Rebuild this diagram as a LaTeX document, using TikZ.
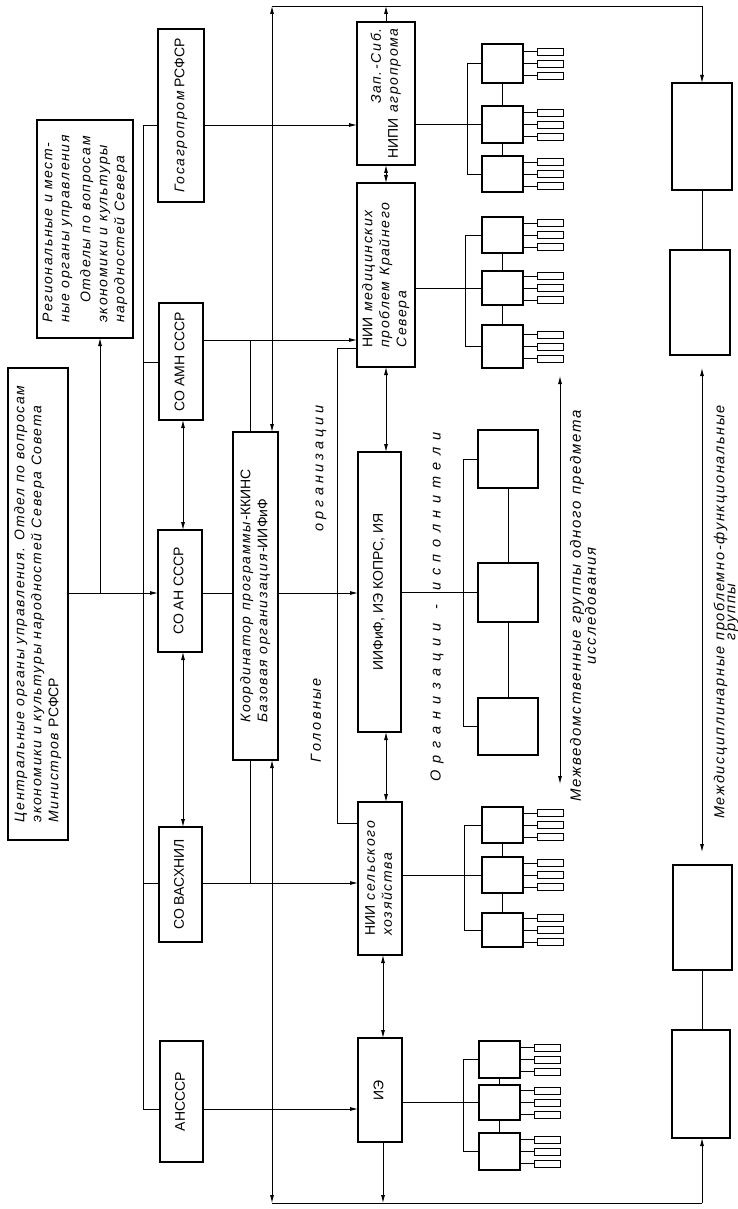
\documentclass[tikz,border=0pt]{standalone}
\usepackage{fontspec}
\setmainfont{Liberation Sans}[ItalicFeatures={LetterSpace=12}]
\usepackage{graphicx}
\usetikzlibrary{arrows.meta,calc}
\newcommand\rt[1]{\rotatebox{90}{\begin{tabular}{@{}l@{}}#1\end{tabular}}}
\newcommand\rtc[1]{\rotatebox{90}{\begin{tabular}{@{}c@{}}#1\end{tabular}}}
\newcommand\rtr[1]{\rotatebox{90}{\begin{tabular}{@{}r@{}}#1\end{tabular}}}
\newcommand\mybox[7][]{%
  \pgfmathsetmacro\cxx{(#3+#5)/2}\pgfmathsetmacro\cyy{(#4+#6)/2}%
  \pgfmathsetmacro\ww{#5-#3}\pgfmathsetmacro\hh{#6-#4}%
  \node[box,minimum width=\ww pt,minimum height=\hh pt,#1] (#2) at (\cxx,\cyy) {#7};}
\newcommand\sgroup[9]{%
  \mybox[gbox]{#1a}{#2}{#4}{#2+41}{#5}{}%
  \mybox[gbox]{#1b}{#2}{#6}{#2+41}{#7}{}%
  \mybox[gbox]{#1c}{#2}{#8}{#2+41}{#9}{}%
  \foreach \k in {a,b,c}{\foreach \d [count=\i] in {-12,0,12}{%
    \node[sbox] (#1\k\i) at ($(#1\k.east)+(27,\d)$) {};
    \draw[ln] (#1\k.east |- #1\k\i.west) -- (#1\k\i.west);}}%
  \draw[ln] (#1a.south) -- (#1b.north) (#1b.south) -- (#1c.north);
  \draw[ln] (#1a.west) -- (#1a.west -| #3,0) -- (#1c.west -| #3,0) -- (#1c.west);
}
\begin{document}
\begin{tikzpicture}[x=1pt,y=-1pt,
  box/.style={draw,line width=1.2pt,inner sep=0pt,outer sep=0pt,font=\fontsize{14}{17}\selectfont},
  gbox/.style={line width=1.1pt},
  ln/.style={line width=0.8pt},
  arr/.style={-{Latex[length=8pt,width=4pt]}},
  arrs/.style={{Latex[length=8pt,width=4pt]}-{Latex[length=8pt,width=4pt]}},
  sbox/.style={draw,line width=0.9pt,minimum width=26pt,minimum height=7pt,inner sep=0pt,outer sep=0pt},
  lbl/.style={font=\itshape\fontsize{14.5}{13}\selectfont,inner sep=0pt,rotate=90,align=center}]
\fill[white] (0,0) rectangle (738,1209);
\useasboundingbox (0,0) rectangle (738,1209);

% ---- boxes
\mybox{cen}{8}{368}{68}{840}{\itshape\rt{Центральные органы управления. Отдел по вопросам\\экономики и культуры народностей Севера Совета\\Министров {\upshape РСФСР}}}
\mybox{reg}{37}{120}{133}{338}{\itshape\rt{Региональные и мест-\\ные органы управления\\[4pt]\hspace{20pt}Отделы по вопросам\\экономики и культуры\\народностей Севера}}
\mybox{gos}{158}{29}{204}{202}{\rt{{\itshape Госагропром} РСФСР}}
\mybox{amn}{159}{303}{203}{420}{\rt{СО АМН СССР}}
\mybox{an}{158}{530}{202}{652}{\rt{СО АН СССР}}
\mybox{vas}{159}{827}{202}{942}{\rt{СО ВАСХНИЛ}}
\mybox{ans}{160}{1041}{203}{1162}{\rt{АНСССР}}
\mybox{koord}{233}{432}{278}{760}{\itshape\rt{Координатор программы-{\upshape ККИНС}\\Базовая организация-{\upshape ИИФиФ}}}
\mybox{zap}{357}{22}{415}{165}{\itshape\rtr{Зап.-Сиб.\\{\upshape НИПИ} агропрома}}
\mybox{med}{357}{183}{415}{367}{\itshape\rt{{\upshape НИИ} медицинских\\проблем Крайнего\\Севера}}
\mybox{iif}{358}{452}{401}{732}{\rt{ИИФиФ, ИЭ КОПРС, ИЯ}}
\mybox{sel}{358}{802}{402}{955}{\itshape\rt{{\upshape НИИ} сельского\\хозяйства}}
\mybox{ie}{358}{1038}{402}{1142}{\rt{ИЭ}}
\mybox{r1}{672}{83}{732}{190}{}
\mybox{r2}{670}{250}{730}{355}{}
\mybox{r3}{673}{865}{732}{970}{}
\mybox{r4}{672}{1030}{730}{1138}{}

% ---- big group
\mybox[gbox]{ga}{478}{430}{538}{488}{}
\mybox[gbox]{gb}{478}{563}{538}{622}{}
\mybox[gbox]{gc}{478}{698}{538}{755}{}
\draw[ln] (ga.south) -- (gb.north) (gb.south) -- (gc.north);
\draw[ln] (ga.west) -- (ga.west -| 463,0) -- (gc.west -| 463,0) -- (gc.west);
\draw[ln] (iif.east |- gb.west) -- (gb.west);

% ---- small groups
\sgroup{z}{482}{467}{44}{83}{106}{143}{156}{192}
\sgroup{m}{482}{465}{217}{253}{271}{305}{325}{368}
\sgroup{s}{482}{464}{807}{843}{857}{893}{913}{947}
\sgroup{e}{479}{463}{1041}{1078}{1085}{1120}{1133}{1170}
\draw[ln] (zap.east |- zb.west) -- (zb.west);
\draw[ln] (med.east |- mb.west) -- (mb.west);
\draw[ln] (sel.east |- sb.west) -- (sb.west);
\draw[ln] (ie.east |- eb.west) -- (eb.west);

% ---- left bus
\coordinate (busT) at (143,125);
\coordinate (busB) at (143,1109);
\draw[ln] (gos.west |- busT) -- (busT) -- (busB) -- (ans.west |- busB);
\draw[ln] (busT |- 0,362) -- (amn.west |- 0,362);
\draw[ln] (busT |- 0,883) -- (vas.west |- 0,883);
\coordinate (j1) at (100,593);
\draw[ln,arr] (cen.east |- j1) -- (an.west |- j1);
\draw[ln,arr] (j1) -- (reg.south -| j1);
\draw[ln,arrs] (amn.south -| 183,0) -- (an.north -| 183,0);
\draw[ln,arrs] (an.south -| 183,0) -- (vas.north -| 183,0);

% ---- to middle column
\draw[ln,arr] (gos.east |- 0,125) -- (zap.west |- 0,125);
\draw[ln,arr] (amn.east |- 0,340) -- (med.west |- 0,340);
\draw[ln] (an.east |- 0,593) -- (koord.west |- 0,593);
\draw[ln,arr] (vas.east |- 0,883) -- (sel.west |- 0,883);
\draw[ln,arr] (ans.east |- 0,1109) -- (ie.west |- 0,1109);
\draw[ln] (250,340) -- (koord.north -| 250,0);
\draw[ln] (koord.south -| 250,0) -- (250,883);
\draw[ln,arr] (koord.east |- 0,593) -- (iif.west |- 0,593);
\draw[ln] (med.west |- 0,348) -- (337,348) -- (337,823) -- (sel.west |- 0,823);

% ---- frame lines
\coordinate (topL) at (272,6);
\coordinate (topR) at (702,6);
\coordinate (botL) at (272,1203);
\coordinate (botR) at (702,1203);
\draw[ln] (topL) -- (topR);
\draw[ln,arr] (topR) -- (r1.north -| topR);
\draw[ln] (botL) -- (botR);
\draw[ln,arr] (botR) -- (r4.south -| botR);
\draw[ln,arrs] (koord.north -| topL) -- (topL);
\draw[ln,arrs] (koord.south -| botL) -- (botL);
\draw[ln,arr] (zap.north) -- (zap.north |- topL);
\draw[ln,arrs] (zap.south) -- (med.north);
\draw[ln,arrs] (med.south) -- (iif.north -| med.south);
\draw[ln,arrs] (iif.south -| 386,0) -- (sel.north -| 386,0);
\draw[ln,arrs] (sel.south -| 383,0) -- (ie.north -| 383,0);
\draw[ln,arr] (ie.south -| 383,0) -- (botL -| 383,0);
\draw[ln] (r1.south) -- (r1.south |- r2.north);
\draw[ln] (r3.south) -- (r3.south |- r4.north);
\coordinate (m1) at (702,368);
\coordinate (m2) at (702,852);
\draw[ln,arrs] (m1) -- (m2);
\coordinate (v1) at (560,376);
\coordinate (v2) at (560,784);
\draw[ln,arrs] (v1) -- (v2);

% ---- labels
\node[lbl] (lorg) at (321,468) {\makebox[126pt][s]{о\hfill р\hfill г\hfill а\hfill н\hfill и\hfill з\hfill а\hfill ц\hfill и\hfill и}};
\node[lbl] (lgol) at (316,720) {\makebox[84pt][s]{Г\hfill о\hfill л\hfill о\hfill в\hfill н\hfill ы\hfill е}};
\node[lbl] (lisp) at (437,607) {\makebox[158pt][s]{О\hfill р\hfill г\hfill а\hfill н\hfill и\hfill з\hfill а\hfill ц\hfill и\hfill и}\hspace{14pt}-\hspace{14pt}\makebox[158pt][s]{и\hfill с\hfill п\hfill о\hfill л\hfill н\hfill и\hfill т\hfill е\hfill л\hfill и}};
\node[lbl,font=\itshape\fontsize{15}{13}\selectfont] (lmv) at (583,606) {Межведомственные группы одного предмета\\исследования};
\node[lbl,font=\itshape\fontsize{14.5}{11}\selectfont] (lmd) at (726,612) {Междисциплинарные проблемно-функциональные\\группы};
\end{tikzpicture}
\end{document}
